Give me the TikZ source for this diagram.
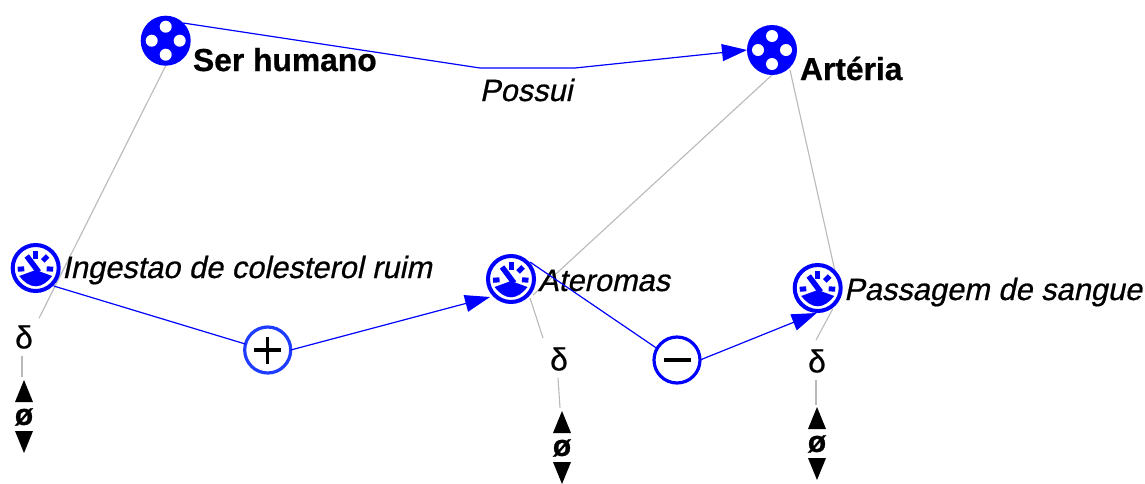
\documentclass[tikz,border=0pt]{standalone}
\usepackage{fontspec}
\setmainfont{Liberation Sans}
\newfontfamily\heavyital[FakeBold=0.6,FakeSlant=0.21]{Liberation Sans}
\newfontfamily\heavybold[FakeBold=0.7]{Liberation Sans Bold}
\newfontfamily\heavyreg[FakeBold=0.3]{Liberation Sans}
\usetikzlibrary{arrows.meta,backgrounds,calc}
\definecolor{pblue}{RGB}{0,0,255}
\definecolor{oblue}{RGB}{30,60,255}
\definecolor{lgray}{RGB}{185,185,185}
\tikzset{
  x=1pt,y=-1pt,
  every node/.style={inner sep=0pt,outer sep=0pt},
  ring/.style={circle,draw=pblue,line width=4pt,fill=white,minimum size=46pt},
  thing/.style={circle,fill=pblue,minimum size=50pt},
  oper/.style={circle,draw=#1,line width=3.2pt,fill=white,minimum size=46pt},
  bname/.style={font=\fontsize{31.8}{32}\heavybold,anchor=base west},
  iname/.style={font=\fontsize{30.8}{31}\heavyital,anchor=base west},
  dlt/.style={font=\fontsize{32}{32}\heavyreg},
  oslash/.style={font=\fontsize{30}{30}\heavybold},
  blk/.style={fill=black},
  link/.style={pblue,line width=1.2pt},
  arrowlink/.style={link,-{Triangle[length=25pt,width=17pt]}},
  soft/.style={lgray,line width=1.1pt},
  sym/.style={black,line width=3.4pt},
}
\newcommand{\thingicon}[2]{%
  \node[thing] (#1) at (#2) {};
  \foreach \dx/\dy in {0/-14,0/14,-14/0,14/0}
    \fill[white] ($(#1)+(\dx,\dy)$) circle (6pt);
}
\newcommand{\gaugeicon}[2]{%
  \node[ring] (#1) at (#2) {};
  \begin{scope}[shift={(#1.center)},pblue]
    \fill (-16.5,8) -- (0,2) -- (16.5,8)
          .. controls (12,14) and (6,18.3) .. (0,18.3)
          .. controls (-6,18.3) and (-12,14) .. (-16.5,8) -- cycle;
    \draw[line width=5.5pt] (-9,-12) -- (3,4);
    \fill (-2.5,-17) rectangle (2.5,-9.5);
    \fill[rotate=-45] (-2.5,-17) rectangle (2.5,-10);
    \fill[rotate=-94] (-2.5,-17.5) rectangle (2.5,-11);
    \fill[rotate=94]  (-2.5,-18) rectangle (2.5,-11.5);
  \end{scope}
}
\newcommand{\range}[2]{% name, apex position
  \coordinate (#1) at (#2);
  \fill[blk] ($(#1)+(0,0)$) -- ++(9,22) -- ++(-18,0) -- cycle;
  \node[oslash] (#1o) at ($(#1)+(0,37)$) {ø};
  \fill[blk] ($(#1)+(0,73)$) -- ++(9,-22) -- ++(-18,0) -- cycle;
}
\begin{document}
\begin{tikzpicture}
\useasboundingbox (0,0) rectangle (1145,483);
% icons
\thingicon{human}{165.7,40.7}
\thingicon{artery}{772,50}
\gaugeicon{g1}{35.7,268}
\gaugeicon{g2}{511,279}
\gaugeicon{g3}{817.7,288}
\node[oper=oblue] (plus) at (267.7,350) {};
\node[oper=pblue] (minus) at (677,360) {};
\draw[sym] (plus.center)++(-13.5,0) -- ++(27,0);
\draw[sym] (plus.center)++(0,-13.5) -- ++(0,27);
\draw[sym] (minus.center)++(-13.5,0) -- ++(27,0);
% labels
\node[bname] (lh) at (193,71) {Ser humano};
\node[bname] (la) at (800,80) {Artéria};
\node[iname] (l1) at (62,278) {Ingestao de colesterol ruim};
\node[iname] (l2) at (538,291) {Ateromas};
\node[iname] (l3) at (844,300) {Passagem de sangue};
\node[font=\fontsize{30.8}{31}\heavyital,anchor=base] (lp) at (526,101) {Possui};
% deltas
\node[dlt] (d1) at (24,337) {δ};
\node[dlt] (d2) at (559,359) {δ};
\node[dlt] (d3) at (817,361) {δ};
\range{r1}{24,380}
\range{r2}{562,411}
\range{r3}{817,407}
% connectors
\coordinate (b1) at (480,68);
\coordinate (b2) at (575,68);
\begin{scope}[on background layer]
  \draw[soft] (human.south) -- ($(d1.north)+(15,-7)$);
  \draw[soft] (artery.south) -- ($(g2.center)+(22,16)$);
  \draw[soft] ($(artery.center)+(18,20)$) -- ($(g3.center)+(17,-18)$);
  \draw[soft] ($(g2.center)+(19,19)$) -- ($(d2.center)+(-16,-21)$);
  \draw[soft] ($(g3.center)+(15,21)$) -- ($(d3.center)+(-1,-21)$);
  \draw[soft] ($(d1.center)+(-2,19)$) -- ($(r1)+(-2,-3)$);
  \draw[soft] ($(d2.center)+(-1,19)$) -- ($(r2)+(-2,-3)$);
  \draw[soft] ($(d3.center)+(-1,19)$) -- ($(r3)+(-1,-2)$);
\end{scope}
\draw[link] (human.45) -- (b1) -- (b2);
\draw[arrowlink] (b2) -- (artery.west);
\draw[link] (g1.center)++(18,18) -- (plus.165);
\draw[arrowlink] (plus.east) -- ($(g2.center)+(-21,18)$);
\draw[link] (g2.center)++(19,-17) -- (minus.150);
\draw[arrowlink] (minus.east) -- ($(g3.center)+(-1,25)$);
\end{tikzpicture}
\end{document}
